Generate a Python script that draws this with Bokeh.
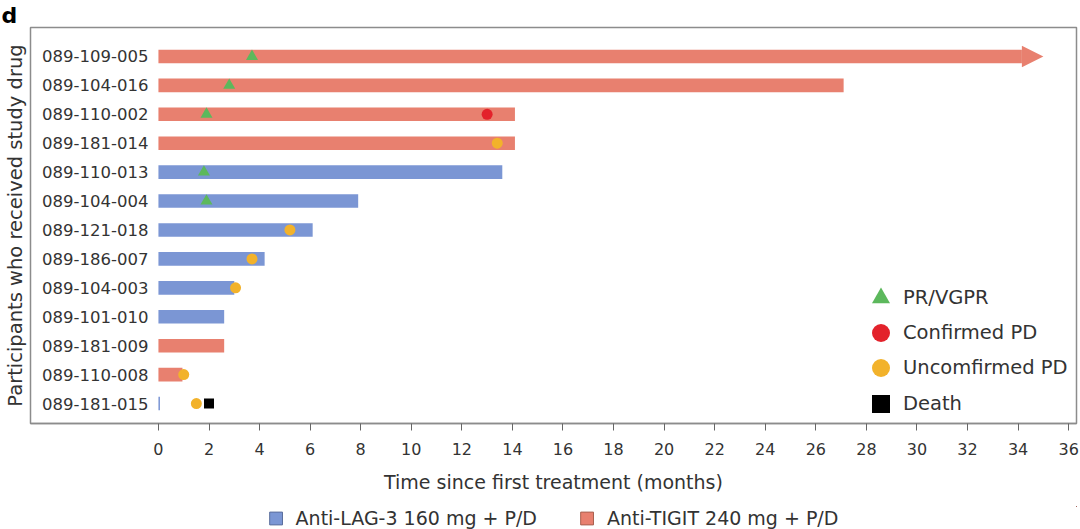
from bokeh.plotting import figure
from bokeh.models import (ColumnDataSource, Range1d, FixedTicker, Legend, LegendItem)
from bokeh.layouts import column
from bokeh.core.properties import value
from bokeh.embed import file_html
from bokeh.resources import INLINE

# ---------------- data ----------------
participants = ["089-109-005", "089-104-016", "089-110-002", "089-181-014", "089-110-013",
                "089-104-004", "089-121-018", "089-186-007", "089-104-003", "089-101-010",
                "089-181-009", "089-110-008", "089-181-015"]
arms = ["TIGIT", "TIGIT", "TIGIT", "TIGIT", "LAG3", "LAG3", "LAG3", "LAG3", "LAG3", "LAG3",
        "TIGIT", "TIGIT", "LAG3"]
duration = [35.0, 27.1, 14.1, 14.1, 13.6, 7.9, 6.1, 4.2, 3.0, 2.6, 2.6, 0.95, 0.06]
ongoing = [True, False, False, False, False, False, False, False, False, False, False, False, False]

pr_ids = ["089-109-005", "089-104-016", "089-110-002", "089-110-013", "089-104-004"]
pr_times = [3.7, 2.8, 1.9, 1.8, 1.9]
cpd_ids = ["089-110-002"]
cpd_times = [13.0]
upd_ids = ["089-181-014", "089-121-018", "089-186-007", "089-104-003", "089-110-008", "089-181-015"]
upd_times = [13.4, 5.2, 3.7, 3.05, 1.0, 1.5]
death_ids = ["089-181-015"]
death_times = [2.0]

event_labels = ["PR/VGPR", "Confirmed PD", "Uncomfirmed PD", "Death"]
x_ticks = list(range(0, 37, 2))
arm_labels = {"LAG3": "Anti-LAG-3 160 mg + P/D", "TIGIT": "Anti-TIGIT 240 mg + P/D"}

# ---------------- styles ----------------
FONT = "DejaVu Sans"
TXT = "#333333"
COL = {"LAG3": "#7b96d4", "TIGIT": "#e8806f"}
EDGE = {"LAG3": "#5b6e9c", "TIGIT": "#a8604f"}
GREEN, RED, ORANGE, BLACK = "#5cb85c", "#e3222b", "#f2b22b", "#000000"
BAR_H = 0.47
HEAD_LEN = 0.85
HEAD_HALF = 0.37

n = len(participants)
ypos = {pid: n - 1 - i for i, pid in enumerate(participants)}

p = figure(width=1080, height=506, output_backend="svg", toolbar_location=None,
           x_range=Range1d(-5.06, 36.31), y_range=Range1d(-0.69, 13.0),
           min_border_left=30, min_border_right=4, min_border_top=0, min_border_bottom=83)
p.background_fill_color = "white"
p.border_fill_color = "white"
p.outline_line_color = "#8c8c8c"
p.outline_line_width = 1.5
p.xgrid.visible = False
p.ygrid.visible = False

# panel letter as title
p.title.text = "d"
p.title.align = "left"
p.title.offset = -29
p.title.standoff = 0
p.title.text_font = FONT
p.title.text_font_size = "22px"
p.title.text_font_style = "bold"
p.title.text_color = "#000000"

# bars per arm
arm_sources = {}
for arm in ["LAG3", "TIGIT"]:
    idx = [i for i in range(n) if arms[i] == arm]
    arm_sources[arm] = ColumnDataSource(dict(
        y=[ypos[participants[i]] for i in idx],
        right=[duration[i] - (HEAD_LEN if ongoing[i] else 0) for i in idx]))
    p.hbar(y="y", left=0, right="right", height=BAR_H, source=arm_sources[arm],
           fill_color=COL[arm], line_color=None)

# arrow heads for ongoing participants
for i in range(n):
    if ongoing[i]:
        y0 = ypos[participants[i]]
        d = duration[i]
        p.patch([d - HEAD_LEN, d, d - HEAD_LEN], [y0 + HEAD_HALF, y0, y0 - HEAD_HALF],
                fill_color=COL[arms[i]], line_color=None)

# participant labels inside frame
lab_src = ColumnDataSource(dict(x=[0] * n, y=[ypos[pid] for pid in participants], t=participants))
p.text(x="x", y="y", text="t", source=lab_src, x_offset=-10, text_align="right",
       text_baseline="middle", text_font=value(FONT), text_font_size="16.5px", text_color=TXT)

# events
def ev(ids, times):
    return ColumnDataSource(dict(x=times, y=[ypos[i] for i in ids]))

r_pr = p.scatter("x", "y", source=ev(pr_ids, pr_times), marker="triangle", size=12,
                 fill_color=GREEN, line_color=None)
r_cpd = p.scatter("x", "y", source=ev(cpd_ids, cpd_times), marker="circle", size=11,
                  fill_color=RED, line_color=None)
r_upd = p.scatter("x", "y", source=ev(upd_ids, upd_times), marker="circle", size=11,
                  fill_color=ORANGE, line_color=None)
r_death = p.scatter("x", "y", source=ev(death_ids, death_times), marker="square", size=10,
                    fill_color=BLACK, line_color=None)

# event legend: one single-item legend per row so markers can be large
LEG_X = 828
LEG_BOTTOM = -2.5
LEG_PITCH = 35.3
for k, (lab, r) in enumerate(zip(event_labels, [r_pr, r_cpd, r_upd, r_death])):
    lg = Legend(items=[LegendItem(label=lab, renderers=[r])],
                location=(LEG_X, LEG_BOTTOM + (len(event_labels) - 1 - k) * LEG_PITCH),
                orientation="vertical", border_line_color=None, background_fill_alpha=0,
                label_text_font=FONT, label_text_font_size="19.5px", label_text_color=TXT,
                glyph_width=45, glyph_height=45, label_height=45, spacing=0,
                label_standoff=0, padding=0, margin=0)
    p.add_layout(lg, "center")

# x axis
ax = p.xaxis[0]
ax.ticker = FixedTicker(ticks=x_ticks)
ax.axis_label = "Time since first treatment (months)"
ax.axis_label_text_font = FONT
ax.axis_label_text_font_size = "19px"
ax.axis_label_text_font_style = "normal"
ax.axis_label_text_color = TXT
ax.axis_label_standoff = 13
ax.major_label_text_font = FONT
ax.major_label_text_font_size = "16px"
ax.major_label_text_color = TXT
ax.major_label_standoff = 12
ax.major_tick_in = 0
ax.major_tick_out = 7
ax.minor_tick_out = 0
ax.minor_tick_in = 0
ax.axis_line_color = "#8c8c8c"
ax.axis_line_width = 1.5
ax.major_tick_line_color = "#666666"

# y axis: title only
ay = p.yaxis[0]
ay.ticker = FixedTicker(ticks=[])
ay.axis_label = "Participants who received study drug"
ay.axis_label_text_font = FONT
ay.axis_label_text_font_size = "19.5px"
ay.axis_label_text_font_style = "normal"
ay.axis_label_text_color = TXT
ay.axis_label_standoff = 4
ay.major_tick_out = 0
ay.major_tick_in = 0
ay.minor_tick_out = 0
ay.minor_tick_in = 0
ay.axis_line_color = None
ay.major_label_standoff = 0

# ---------------- arm legend strip (separate legend-only figure) ----------------
q = figure(width=1080, height=23, output_backend="svg", toolbar_location=None,
           x_range=Range1d(-100, -90), y_range=Range1d(-100, -90), min_border=0)
q.axis.visible = False
q.xgrid.visible = False
q.ygrid.visible = False
q.outline_line_color = None
q.background_fill_color = "white"
q.border_fill_color = "white"
leg_items = []
for arm in ["LAG3", "TIGIT"]:
    r = q.hbar(y="y", left=0, right="right", height=BAR_H, source=arm_sources[arm],
               fill_color=COL[arm], line_color=EDGE[arm], line_width=1)
    leg_items.append(LegendItem(label=arm_labels[arm], renderers=[r]))
arm_legend = Legend(items=leg_items, orientation="horizontal", location="center",
                    border_line_color=None, background_fill_alpha=0,
                    label_text_font=FONT, label_text_font_size="19px", label_text_color=TXT,
                    glyph_width=16, glyph_height=16, label_height=22, spacing=42,
                    label_standoff=12, padding=0, margin=0)
q.add_layout(arm_legend, "center")

layout = column(p, q, spacing=0)
open("out.html", "w").write(file_html(layout, INLINE))
